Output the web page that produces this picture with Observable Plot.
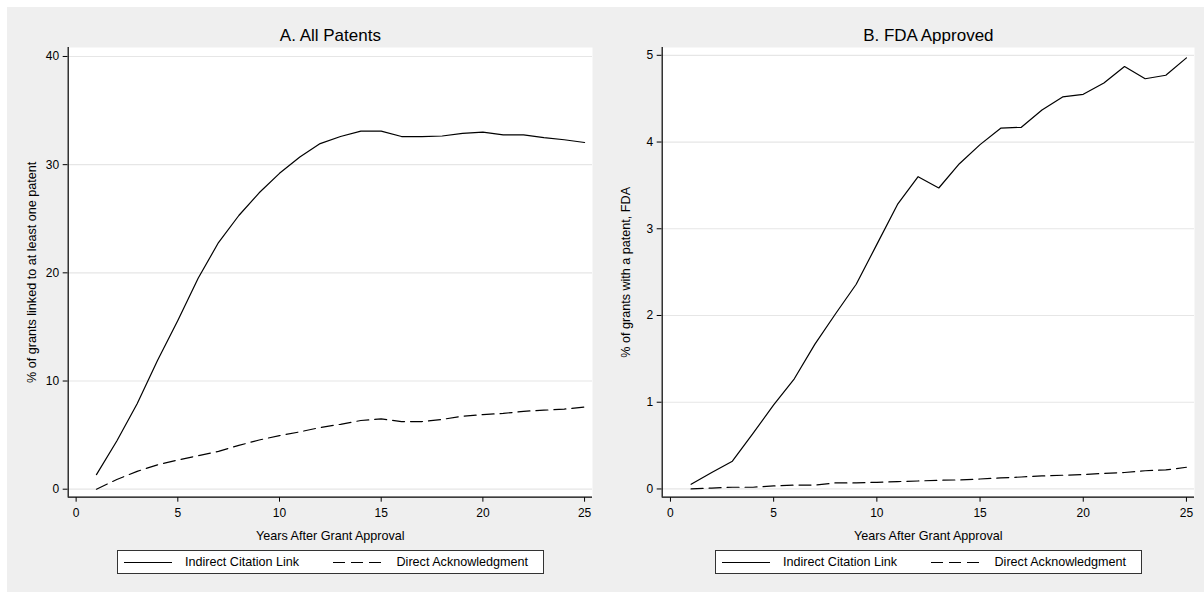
<!DOCTYPE html>
<html><head><meta charset="utf-8">
<script src="https://cdn.jsdelivr.net/npm/d3@7"></script>
<script src="https://cdn.jsdelivr.net/npm/@observablehq/plot@0.6"></script>
<style>
body{margin:0;background:#fff;}
#wrap{position:relative;width:1204px;height:592px;overflow:hidden;font-family:"Liberation Sans",Arial,sans-serif;color:#000;}
#bg{position:absolute;left:7px;top:7px;width:1197px;height:585px;background:#efefef;}
.panel{position:absolute;top:0;}
.legend{position:absolute;top:550px;height:24px;width:427px;background:#fff;border:1px solid #333;box-sizing:border-box;font-size:12.6px;}
.legend .item{position:absolute;top:0;height:22px;line-height:22px;white-space:nowrap;}
.legend svg{position:absolute;top:0;}
</style>
</head><body>
<div id="wrap"><div id="bg"></div></div>
<script>
const years = [1,2,3,4,5,6,7,8,9,10,11,12,13,14,15,16,17,18,19,20,21,22,23,24,25];
const seriesNames = ["Indirect Citation Link", "Direct Acknowledgment"];
const allIndirect = [1.35,4.45,7.9,11.9,15.6,19.5,22.8,25.3,27.4,29.2,30.7,31.95,32.6,33.1,33.1,32.6,32.6,32.65,32.9,33.0,32.75,32.75,32.5,32.3,32.05];
const allDirect = [0.0,0.9,1.65,2.25,2.7,3.1,3.5,4.05,4.55,4.95,5.3,5.7,6.0,6.35,6.5,6.25,6.25,6.45,6.75,6.9,7.0,7.2,7.3,7.4,7.6];
const fdaIndirect = [0.054,0.19,0.32,0.64,0.97,1.27,1.67,2.02,2.36,2.82,3.28,3.60,3.47,3.75,3.97,4.16,4.17,4.37,4.52,4.55,4.68,4.87,4.73,4.77,4.97];
const fdaDirect = [0.0,0.01,0.02,0.02,0.035,0.045,0.045,0.07,0.07,0.077,0.085,0.092,0.1,0.104,0.115,0.127,0.138,0.15,0.158,0.165,0.18,0.19,0.21,0.22,0.25];
const xTicks = [0,5,10,15,20,25];
const allYTicks = [0,10,20,30,40];
const fdaYTicks = [0,1,2,3,4,5];
const titles = ["A. All Patents", "B. FDA Approved"];
const yLabels = ["% of grants linked to at least one patent", "% of grants with a patent, FDA"];
const xLabel = "Years After Grant Approval";
const dashes = [null, "12,6"];

const FONT = '"Liberation Sans", Arial, sans-serif';

function panel({indirect, direct, yDomain, yTicks, xDomain, marginLeft, marginRight, width, title, ylabel}) {
  const rows = (vals) => years.map((yr, i) => ({year: yr, v: vals[i]}));
  return Plot.plot({
    width, height: 592,
    marginLeft, marginRight, marginTop: 47, marginBottom: 95.3,
    style: {background: "transparent", fontFamily: FONT, fontSize: "12px", color: "#000"},
    x: {domain: xDomain, ticks: xTicks, tickSize: 5, tickPadding: 6, label: null, tickFormat: d3.format("d")},
    y: {domain: yDomain, ticks: yTicks, tickSize: 5, tickPadding: 4, label: null, tickFormat: d3.format("d")},
    marks: [
      Plot.frame({fill: "#fff", stroke: "none"}),
      Plot.ruleY(yTicks, {stroke: "#e6e6e6", strokeWidth: 1.2}),
      Plot.line(rows(indirect), {x: "year", y: "v", stroke: "#000", strokeWidth: 1.2}),
      Plot.line(rows(direct), {x: "year", y: "v", stroke: "#000", strokeWidth: 1.2, strokeDasharray: dashes[1]}),
      Plot.ruleX([xDomain[0]], {stroke: "#000", strokeWidth: 1.2}),
      Plot.ruleY([yDomain[0]], {stroke: "#000", strokeWidth: 1.2}),
      Plot.text([title], {text: d => d, frameAnchor: "top", textAnchor: "middle", lineAnchor: "middle", dy: -12, fontSize: 17, fill: "#000"}),
      Plot.text([xLabel], {text: d => d, frameAnchor: "bottom", textAnchor: "middle", lineAnchor: "middle", dy: 39, fontSize: 12.6, fill: "#000"}),
      Plot.text([ylabel], {text: d => d, frameAnchor: "left", textAnchor: "middle", lineAnchor: "middle", rotate: -90, dx: -36, fontSize: 12.6, fill: "#000"})
    ]
  });
}

const wrap = document.getElementById("wrap");

const left = panel({
  indirect: allIndirect, direct: allDirect,
  yDomain: [-0.74, 40.83], yTicks: allYTicks, xDomain: [-0.39, 25.39],
  marginLeft: 67.7, marginRight: 8, width: 600, title: titles[0], ylabel: yLabels[0]
});
left.classList.add("panel"); left.style.left = "0px";
wrap.appendChild(left);

const right = panel({
  indirect: fdaIndirect, direct: fdaDirect,
  yDomain: [-0.095, 5.09], yTicks: fdaYTicks, xDomain: [-0.40, 25.39],
  marginLeft: 61.7, marginRight: 10, width: 604, title: titles[1], ylabel: yLabels[1]
});
right.classList.add("panel"); right.style.left = "600px";
wrap.appendChild(right);

function legend(leftPx) {
  const box = document.createElement("div");
  box.className = "legend";
  box.style.left = leftPx + "px";
  const offsets = [[6, 67.5], [215.5, 279]];
  seriesNames.forEach((name, i) => {
    const ns = "http://www.w3.org/2000/svg";
    const svg = document.createElementNS(ns, "svg");
    svg.setAttribute("width", 48); svg.setAttribute("height", 22);
    svg.style.left = offsets[i][0] + "px";
    const ln = document.createElementNS(ns, "line");
    ln.setAttribute("x1", 0); ln.setAttribute("x2", 48);
    ln.setAttribute("y1", 11.5); ln.setAttribute("y2", 11.5);
    ln.setAttribute("stroke", "#000"); ln.setAttribute("stroke-width", 1.2);
    if (dashes[i]) ln.setAttribute("stroke-dasharray", dashes[i]);
    svg.appendChild(ln);
    box.appendChild(svg);
    const t = document.createElement("div");
    t.className = "item"; t.textContent = name;
    t.style.left = offsets[i][1] + "px";
    box.appendChild(t);
  });
  wrap.appendChild(box);
}
legend(116.5);
legend(714.5);
</script>
</body></html>
